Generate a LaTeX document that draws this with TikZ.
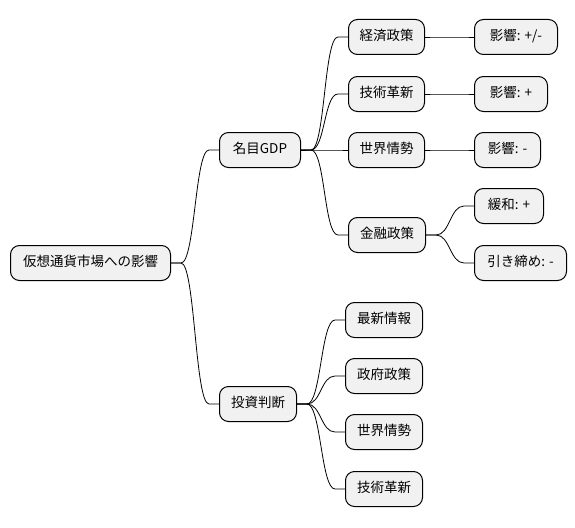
\documentclass[tikz,border=0pt]{standalone}
\usepackage{fontspec}
\setmainfont{Noto Sans CJK JP}
\usetikzlibrary{calc}
\definecolor{boxfill}{HTML}{F1F1F1}
\tikzset{
  mm/.style={draw=black, line width=1pt, fill=boxfill, rounded corners=9pt,
    minimum height=35pt, inner xsep=10.5pt, inner ysep=0pt, anchor=west,
    font=\fontsize{13.5}{16}\selectfont, text height=10pt, text depth=3pt},
  link/.style={line width=0.8pt, black}
}
\newcommand{\mmlink}[2]{\draw[link] (#1.east) -- ++(10,0) .. controls +(14,0) and +(-14,0) .. ([xshift=-10pt]#2.west) -- (#2.west);}
\begin{document}
\begin{tikzpicture}[x=1pt,y=-1pt]
\useasboundingbox (0,0) rectangle (575,527);
\node[mm, minimum width=160pt] (root) at (10,263) {仮想通貨市場への影響};
\node[mm, minimum width=81pt] (gdp) at (219,150) {名目GDP};
\node[mm, minimum width=77pt] (inv) at (219,404) {投資判断};
\node[mm, minimum width=76pt] (keizai) at (348,37) {経済政策};
\node[mm, minimum width=76pt] (gijutsu) at (348,94) {技術革新};
\node[mm, minimum width=76pt] (sekai) at (348,150) {世界情勢};
\node[mm, minimum width=77pt] (kinyu) at (348,235) {金融政策};
\node[mm, minimum width=83pt] (e1) at (474,37) {影響: +/-};
\node[mm, minimum width=73pt] (e2) at (474,94) {影響: +};
\node[mm, minimum width=66pt] (e3) at (474,150) {影響: -};
\node[mm, minimum width=69pt] (kanwa) at (474,206) {緩和: +};
\node[mm, minimum width=92pt] (hiki) at (474,263) {引き締め: -};
\node[mm, minimum width=77pt] (saishin) at (345,320) {最新情報};
\node[mm, minimum width=77pt] (seifu) at (345,376) {政府政策};
\node[mm, minimum width=77pt] (sekai2) at (345,432) {世界情勢};
\node[mm, minimum width=77pt] (gijutsu2) at (345,489) {技術革新};
\mmlink{root}{gdp}
\mmlink{root}{inv}
\mmlink{gdp}{keizai}
\mmlink{gdp}{gijutsu}
\mmlink{gdp}{sekai}
\mmlink{gdp}{kinyu}
\mmlink{keizai}{e1}
\mmlink{gijutsu}{e2}
\mmlink{sekai}{e3}
\mmlink{kinyu}{kanwa}
\mmlink{kinyu}{hiki}
\mmlink{inv}{saishin}
\mmlink{inv}{seifu}
\mmlink{inv}{sekai2}
\mmlink{inv}{gijutsu2}
\end{tikzpicture}
\end{document}
